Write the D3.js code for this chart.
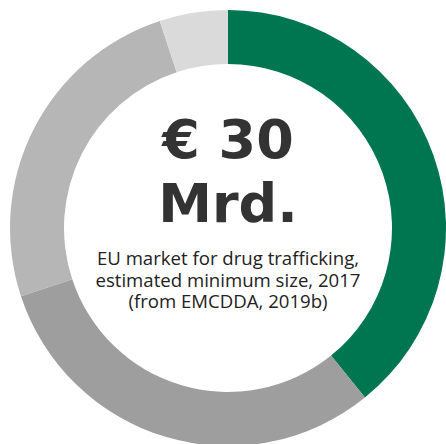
<!DOCTYPE html>
<html>
<head>
<meta charset="utf-8">
<script src="https://cdn.jsdelivr.net/npm/d3@7/dist/d3.min.js"></script>
<style>
  html, body { margin: 0; padding: 0; background: #ffffff; }
  svg { display: block; }
</style>
</head>
<body>
<svg id="chart" width="446" height="444"></svg>
<script>
// EU drug market segments (EUR bn, 2017 estimates)
const categories = ["Cannabis", "Cocaine", "Heroin", "Amphetamines & MDMA"];
const values = [11.6, 9.1, 7.4, 1.5];
const colors = ["#007650", "#9e9e9e", "#b6b6b6", "#dadada"];
const headline = ["€ 30", "Mrd."];
const caption = ["EU market for drug trafficking,", "estimated minimum size, 2017", "(from EMCDDA, 2019b)"];

const svg = d3.select("#chart");
const cx = 228, cy = 228, outerR = 218, innerR = 164;

const data = categories.map((c, i) => ({ category: c, value: values[i] }));
const pie = d3.pie().value(d => d.value).sort(null);
const arc = d3.arc().innerRadius(innerR).outerRadius(outerR);
const color = d3.scaleOrdinal().domain(categories).range(colors);

const g = svg.append("g").attr("transform", `translate(${cx},${cy})`);
g.selectAll("path.slice")
  .data(pie(data))
  .join("path")
  .attr("class", "slice")
  .attr("d", arc)
  .attr("fill", d => color(d.data.category));

// Headline
g.append("g").selectAll("text")
  .data(headline)
  .join("text")
  .attr("x", 0)
  .attr("y", (d, i) => -70 + i * 64)
  .attr("text-anchor", "middle")
  .attr("font-family", "'DejaVu Sans', sans-serif")
  .attr("font-weight", "bold")
  .attr("font-size", 54)
  .attr("fill", "#333333")
  .text(d => d);

// Caption
g.append("g").selectAll("text")
  .data(caption)
  .join("text")
  .attr("x", 0)
  .attr("y", (d, i) => 37 + i * 21.5)
  .attr("text-anchor", "middle")
  .attr("font-family", "'Open Sans', sans-serif")
  .attr("font-size", 18.6)
  .attr("fill", "#222222")
  .text(d => d);
</script>
</body>
</html>
